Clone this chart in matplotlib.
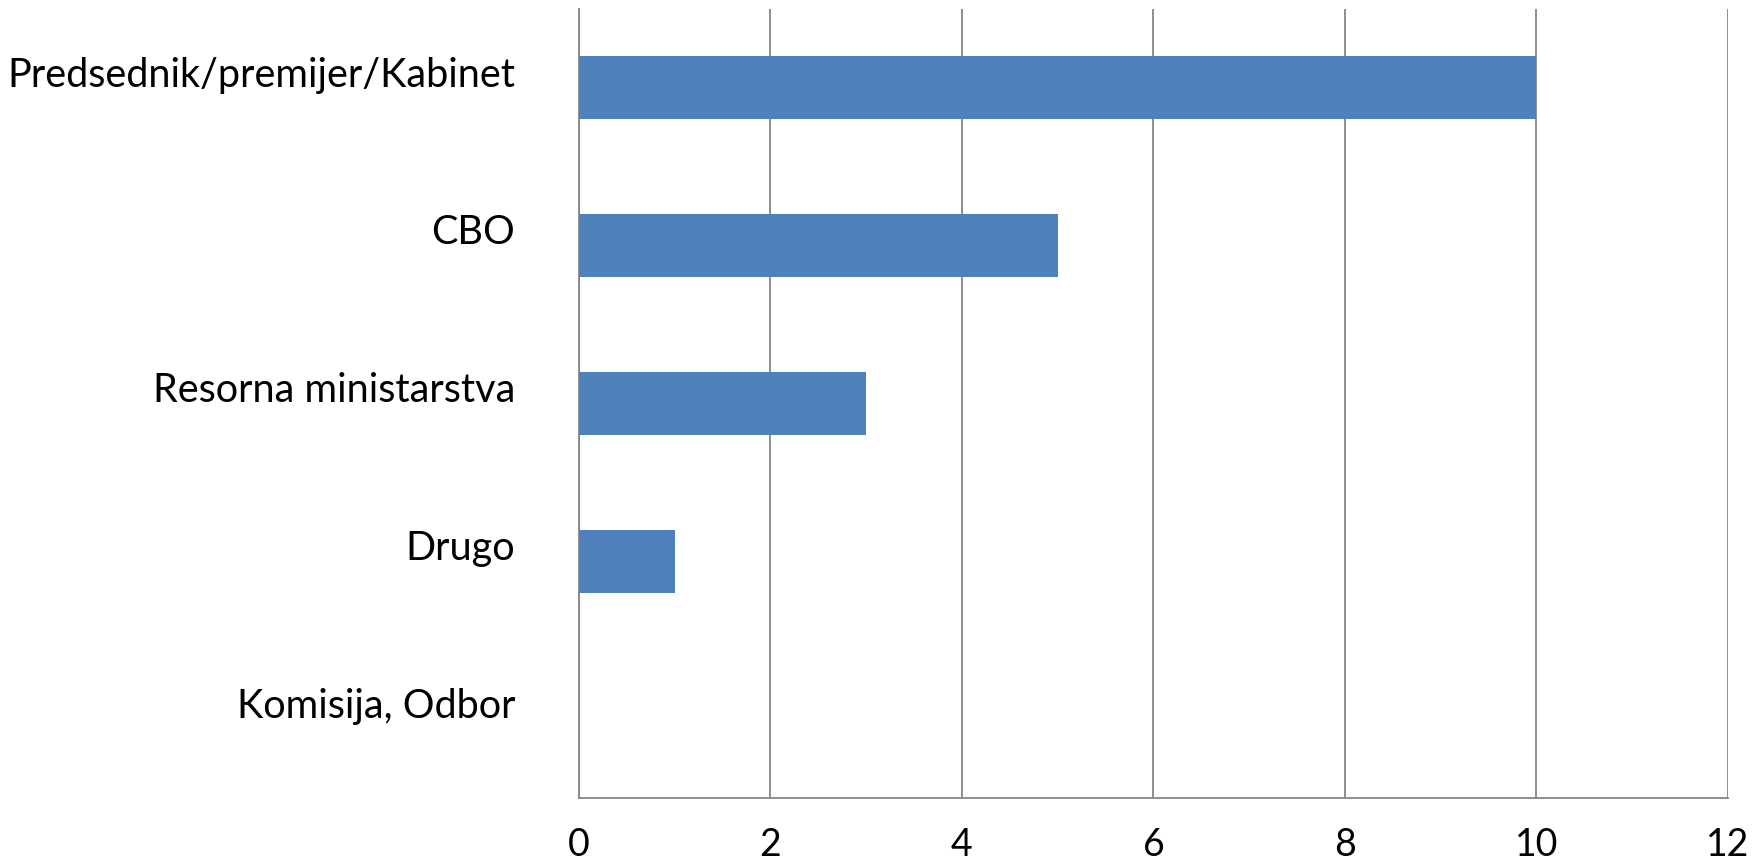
import matplotlib.pyplot as plt
from matplotlib.transforms import offset_copy

# podaci
kategorije = ["Predsednik/premijer/Kabinet", "CBO", "Resorna ministarstva",
              "Drugo", "Komisija, Odbor"]
vrednosti = [10, 5, 3, 1, 0]
x_ticks = [0, 2, 4, 6, 8, 10, 12]

plt.rcParams['font.family'] = ['Lato', 'DejaVu Sans']

fig = plt.figure(figsize=(17.65, 8.68), dpi=100)
ax = fig.add_axes([0.328, 0.0806, 0.651, 0.909])

y = list(range(len(kategorije)))
ax.barh(y, vrednosti, height=0.4, color='#4F81BD', zorder=3)

ax.set_ylim(len(kategorije) - 0.5, -0.5)
ax.set_xlim(0, 12)
ax.set_xticks(x_ticks)
ax.set_xticklabels([str(t) for t in x_ticks], fontsize=27)
ax.tick_params(axis='x', length=0, pad=21)
ax.set_yticks([])

# vertikalne linije mreze
ax.grid(axis='x', color='#868686', linewidth=1.3, zorder=0)
ax.set_axisbelow(True)

for s in ['top', 'right']:
    ax.spines[s].set_visible(False)
for s in ['left', 'bottom']:
    ax.spines[s].set_color('#868686')
    ax.spines[s].set_linewidth(1.3)

# nazivi kategorija (malo iznad sredine trake)
trans = offset_copy(ax.get_yaxis_transform(), fig=fig, x=-46, y=1, units='points')
for i, naziv in enumerate(kategorije):
    ax.text(0, i, naziv, transform=trans, ha='right', va='baseline', fontsize=28.5)

plt.savefig('out.png', dpi=100)
